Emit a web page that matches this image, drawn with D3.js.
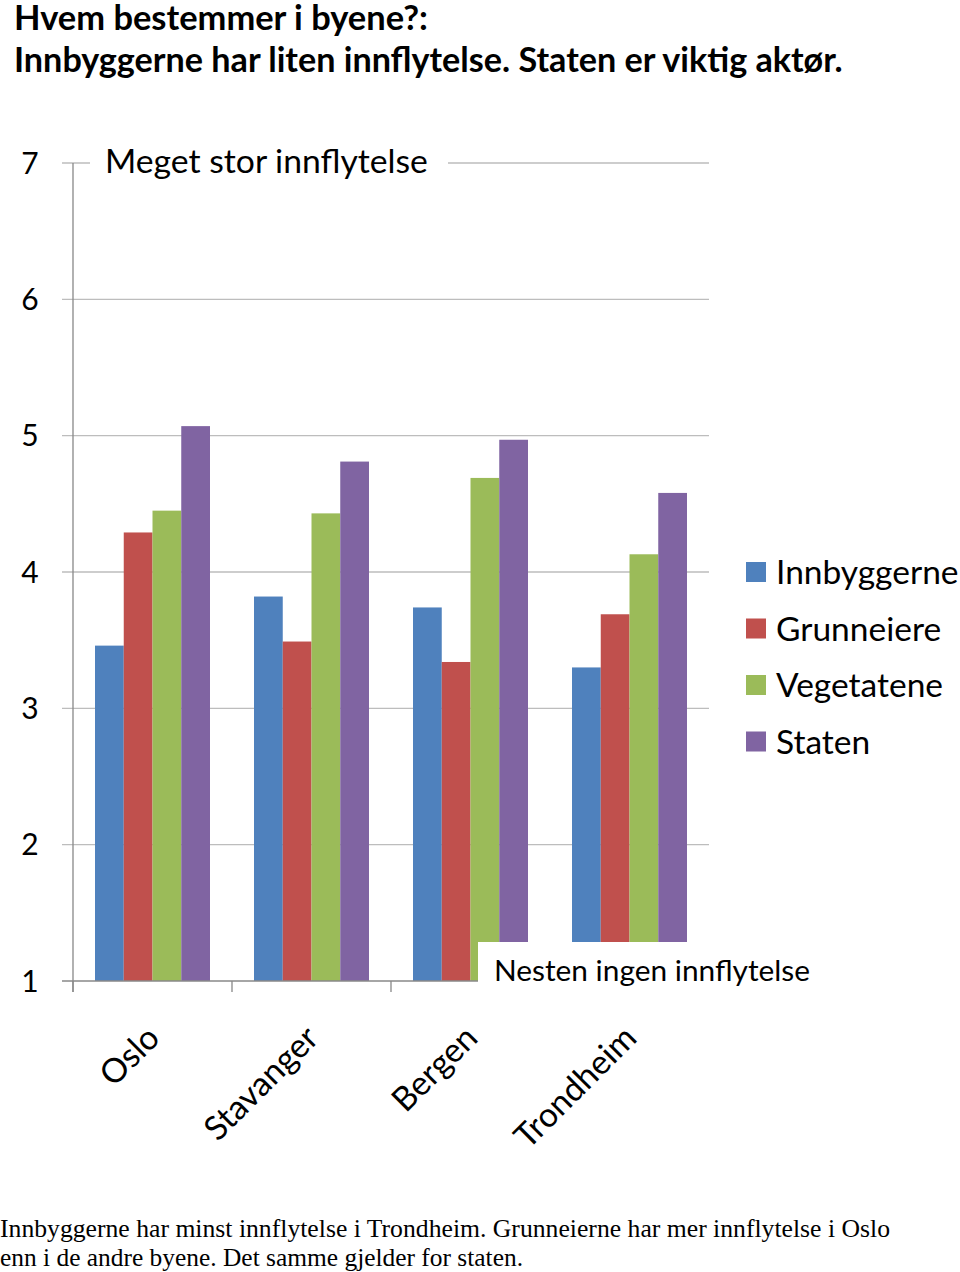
<!DOCTYPE html>
<html><head><meta charset="utf-8">
<script src="https://cdn.jsdelivr.net/npm/d3@7/dist/d3.min.js"></script>
<style>body{margin:0;background:#fff}svg{display:block}</style>
</head><body>
<script>
const titleLines = ["Hvem bestemmer i byene?:", "Innbyggerne har liten innflytelse. Staten er viktig aktør."];
const footLines = ["Innbyggerne har minst innflytelse i Trondheim. Grunneierne har mer innflytelse i Oslo", "enn i de andre byene. Det samme gjelder for staten."];
const cities = ["Oslo", "Stavanger", "Bergen", "Trondheim"];
const seriesNames = ["Innbyggerne", "Grunneiere", "Vegetatene", "Staten"];
const colors = ["#4F81BD", "#C0504D", "#9BBB59", "#8064A2"];
const innbyggerne = [3.46, 3.82, 3.74, 3.30];
const grunneiere = [4.29, 3.49, 3.34, 3.69];
const vegetatene = [4.45, 4.43, 4.69, 4.13];
const staten = [5.07, 4.81, 4.97, 4.58];
const yTicks = [1, 2, 3, 4, 5, 6, 7];
const topLabel = "Meget stor innflytelse";
const bottomLabel = "Nesten ingen innflytelse";

const values = [innbyggerne, grunneiere, vegetatene, staten];
const W = 960, H = 1272;
const svg = d3.select("body").append("svg").attr("width", W).attr("height", H);
const FONT = "Lato, 'Open Sans', sans-serif";

function fitWidth(t, w) {
  const cur = t.node().getComputedTextLength();
  const fs = parseFloat(t.attr("font-size"));
  t.attr("font-size", fs * w / cur);
}

// title
const t1 = svg.append("text").attr("x", 14).attr("y", 30).attr("font-family", FONT).attr("font-weight", "bold").attr("font-size", 30).text(titleLines[0]);
fitWidth(t1, 414);
const t2 = svg.append("text").attr("x", 14).attr("y", 72).attr("font-family", FONT).attr("font-weight", "bold").attr("font-size", 30).text(titleLines[1]);
fitWidth(t2, 829);

const y = d3.scaleLinear().domain([1, 7]).range([981, 163]);
const x0 = d3.scaleBand().domain(cities).range([73, 709]).padding(0);
const x1 = d3.scaleBand().domain(seriesNames).range([22, x0.bandwidth() - 22]).padding(0);

// gridlines
svg.append("g").selectAll("line").data(yTicks.filter(d => d > 1)).join("line")
  .attr("x1", 62).attr("x2", 709).attr("y1", d => y(d)).attr("y2", d => y(d))
  .attr("stroke", "#bdbdbd").attr("stroke-width", 1.3);

// bars
const g = svg.append("g");
cities.forEach((c, i) => {
  g.append("g").attr("transform", `translate(${x0(c)},0)`).selectAll("rect")
    .data(seriesNames.map((s, j) => ({ s, v: values[j][i], col: colors[j] })))
    .join("rect")
    .attr("x", d => x1(d.s)).attr("width", x1.bandwidth())
    .attr("y", d => y(d.v)).attr("height", d => y(1) - y(d.v))
    .attr("fill", d => d.col);
});

// axes
svg.append("line").attr("x1", 73).attr("x2", 73).attr("y1", y(7)).attr("y2", 992).attr("stroke", "#888").attr("stroke-width", 1.3);
svg.append("line").attr("x1", 62).attr("x2", 709).attr("y1", y(1)).attr("y2", y(1)).attr("stroke", "#888").attr("stroke-width", 1.3);
svg.append("g").selectAll("line").data(cities.concat(["_end"])).join("line")
  .attr("x1", (d, i) => 73 + i * x0.bandwidth()).attr("x2", (d, i) => 73 + i * x0.bandwidth())
  .attr("y1", y(1)).attr("y2", 992).attr("stroke", "#888").attr("stroke-width", 1.3);

// y tick labels
svg.append("g").selectAll("text").data(yTicks).join("text")
  .attr("x", 30).attr("y", d => y(d)).attr("dy", "0.35em").attr("text-anchor", "middle")
  .attr("font-family", FONT).attr("font-size", 30).attr("fill", "#000").text(d => d);

// category labels
svg.append("g").selectAll("text").data(cities).join("text")
  .attr("transform", d => `translate(${x0(d) + x0.bandwidth() / 2 + 9},1040) rotate(-45)`)
  .attr("text-anchor", "end").attr("font-family", FONT).attr("font-size", 33.5).attr("fill", "#000").text(d => d);

// top label box
svg.append("rect").attr("x", 90).attr("y", 140).attr("width", 358).attr("height", 44).attr("fill", "#fff");
const tl = svg.append("text").attr("x", 105).attr("y", 173).attr("font-family", FONT).attr("font-size", 30).text(topLabel);
fitWidth(tl, 323);

// bottom label box
svg.append("rect").attr("x", 478).attr("y", 942).attr("width", 350).attr("height", 60).attr("fill", "#fff");
const bl = svg.append("text").attr("x", 494).attr("y", 981).attr("font-family", FONT).attr("font-size", 30).text(bottomLabel);
fitWidth(bl, 316);

// legend
const lg = svg.append("g").selectAll("g").data(seriesNames).join("g")
  .attr("transform", (d, i) => `translate(746,${562 + i * 56.5})`);
lg.append("rect").attr("width", 20).attr("height", 20).attr("fill", (d, i) => colors[i]);
lg.append("text").attr("x", 30).attr("y", 10).attr("dy", "0.36em").attr("font-family", FONT).attr("font-size", 33.5).text(d => d);

// footnote
svg.append("g").selectAll("text").data(footLines).join("text")
  .attr("x", 0).attr("y", (d, i) => 1237 + i * 29)
  .attr("font-family", "'Liberation Serif', 'Times New Roman', serif").attr("font-size", 26)
  .attr("textLength", (d, i) => [890, 523][i]).attr("lengthAdjust", "spacingAndGlyphs")
  .text(d => d);
</script>
</body></html>
